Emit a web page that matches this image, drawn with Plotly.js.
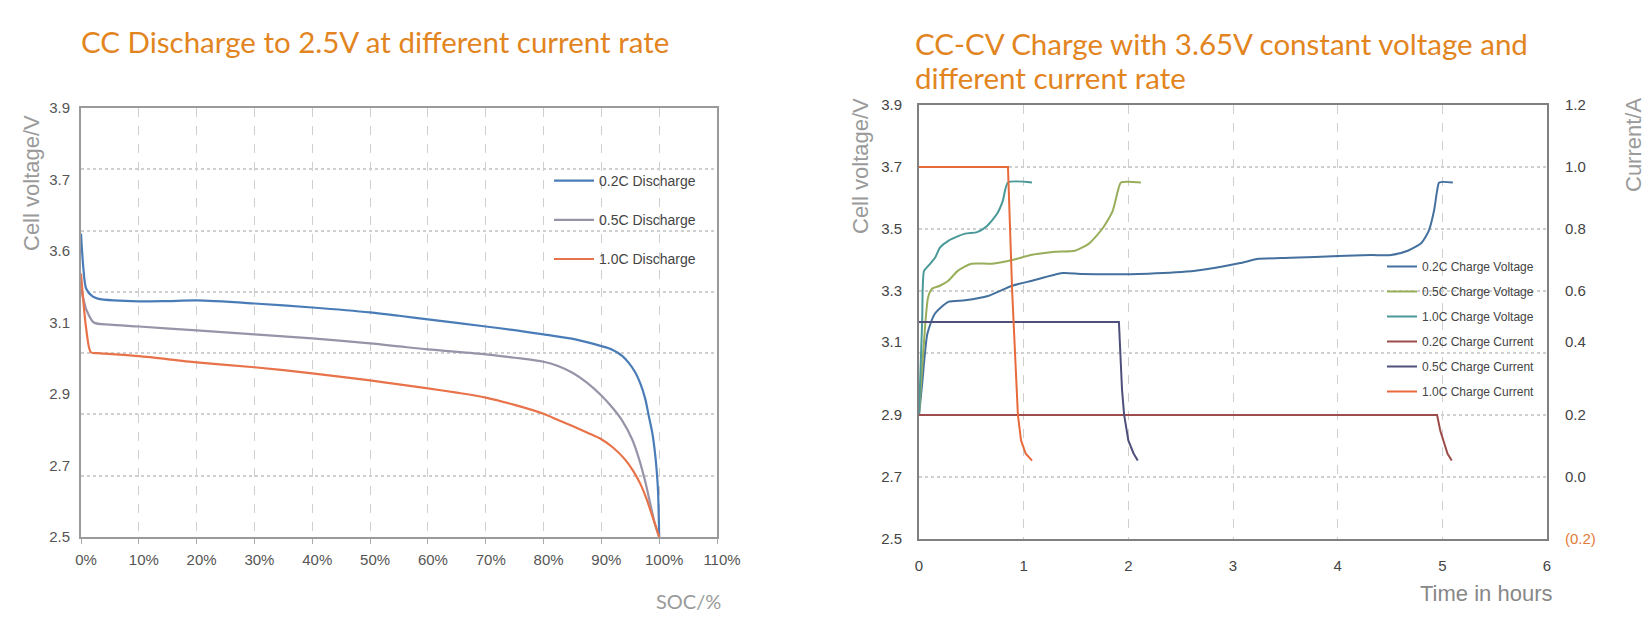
<!DOCTYPE html>
<html>
<head>
<meta charset="utf-8">
<script src="https://cdn.plot.ly/plotly-3.0.1.min.js"></script>
<style>
html,body{margin:0;padding:0;background:#ffffff;}
#chart{width:1650px;height:636px;}
</style>
</head>
<body>
<div id="chart"></div>
<script>
// ---------- Left chart: CC discharge (SOC %, cell voltage V) ----------
const socTicks = [0,10,20,30,40,50,60,70,80,90,100,110];
const socTickText = ["0%","10%","20%","30%","40%","50%","60%","70%","80%","90%","100%","110%"];
const leftVoltTickVals = [2.5, 2.733, 2.967, 3.2, 3.433, 3.667, 3.9];
const leftVoltTickText = ["2.5","2.7","2.9","3.1","3.6","3.7","3.9"];

const soc02 = [0, 0.4, 0.9, 2.0, 2.9, 5.7, 10, 15, 20, 30, 40, 50, 55, 60, 70, 75, 80, 85.5, 90, 91.8, 93.6, 94.7, 95.9, 96.8, 97.6, 98.2, 98.8, 99.2, 99.5, 99.8, 100];
const volt02 = [3.49, 3.38, 3.31, 3.285, 3.278, 3.272, 3.269, 3.27, 3.272, 3.262, 3.249, 3.233, 3.222, 3.21, 3.187, 3.175, 3.161, 3.145, 3.123, 3.112, 3.091, 3.069, 3.036, 2.998, 2.95, 2.895, 2.841, 2.787, 2.732, 2.65, 2.5];

const soc05 = [0, 0.5, 0.9, 2.2, 5, 10, 20, 30, 40, 50, 55, 60, 70, 75, 80, 82.5, 85, 87.5, 90, 92, 93.6, 95.3, 96.5, 97.6, 98.5, 99.3, 100];
const volt05 = [3.31, 3.27, 3.243, 3.2, 3.193, 3.187, 3.174, 3.161, 3.148, 3.132, 3.122, 3.112, 3.096, 3.085, 3.072, 3.058, 3.036, 3.004, 2.962, 2.92, 2.88, 2.82, 2.756, 2.68, 2.605, 2.54, 2.5];

const soc10 = [0, 0.9, 1.7, 2.9, 10, 20, 30, 40, 50, 55, 60, 65, 70, 75, 80, 82.5, 85, 87.5, 90, 92, 94, 95.5, 96.7, 97.8, 98.8, 99.5, 100];
const volt10 = [3.36, 3.18, 3.103, 3.1, 3.09, 3.07, 3.054, 3.034, 3.011, 2.998, 2.985, 2.971, 2.955, 2.931, 2.902, 2.882, 2.862, 2.841, 2.819, 2.792, 2.755, 2.716, 2.675, 2.625, 2.569, 2.53, 2.5];

// ---------- Right chart: CC-CV charge (hours, V and A) ----------
const hourTicks = [0,1,2,3,4,5,6];
const rightVoltTickVals = [2.5, 2.7, 2.9, 3.135, 3.3, 3.5, 3.7, 3.9];
const rightVoltTickText = ["2.5","2.7","2.9","3.1","3.3","3.5","3.7","3.9"];
const currTickVals = [-0.2, 0.0, 0.2, 0.435, 0.6, 0.8, 1.0, 1.2];
const currTickText = ['<span style="color:#E07B39">(0.2)</span>',"0.0","0.2","0.4","0.6","0.8","1.0","1.2"];

const tV02 = [0, 0.03, 0.08, 0.15, 0.28, 0.44, 0.66, 0.89, 1.08, 1.37, 1.56, 2.19, 2.64, 3.07, 3.23, 3.55, 4.01, 4.32, 4.51, 4.67, 4.80, 4.87, 4.92, 4.95, 4.97, 5.10];
const vV02 = [2.9, 3.0, 3.162, 3.226, 3.265, 3.27, 3.284, 3.317, 3.333, 3.358, 3.355, 3.356, 3.365, 3.39, 3.403, 3.407, 3.413, 3.416, 3.416, 3.43, 3.455, 3.494, 3.558, 3.623, 3.65, 3.65];

const tV05 = [0, 0.04, 0.086, 0.124, 0.2, 0.28, 0.37, 0.5, 0.7, 0.89, 1.08, 1.3, 1.49, 1.62, 1.75, 1.85, 1.9, 1.93, 2.12];
const vV05 = [2.9, 3.1, 3.278, 3.307, 3.317, 3.333, 3.365, 3.388, 3.388, 3.4, 3.417, 3.427, 3.43, 3.452, 3.5, 3.558, 3.623, 3.65, 3.65];

const tV10 = [0, 0.03, 0.048, 0.086, 0.153, 0.2, 0.28, 0.44, 0.555, 0.65, 0.746, 0.8, 0.85, 1.08];
const vV10 = [2.9, 3.2, 3.365, 3.38, 3.407, 3.44, 3.462, 3.485, 3.49, 3.51, 3.549, 3.59, 3.65, 3.65];

const tI02 = [0, 4.95, 4.98, 5.01, 5.05, 5.09];
const iI02 = [0.2, 0.2, 0.15, 0.118, 0.075, 0.053];

const tI05 = [0, 1.91, 1.94, 1.96, 2.0, 2.05, 2.09];
const iI05 = [0.5, 0.5, 0.28, 0.2, 0.118, 0.076, 0.053];

const tI10 = [0, 0.85, 0.89, 0.93, 0.945, 0.975, 1.02, 1.08];
const iI10 = [1.0, 1.0, 0.6, 0.31, 0.2, 0.118, 0.075, 0.053];

// ---------- helpers ----------
const W = 1650, H = 636;
const px = x => x / W;
const py = y => 1 - y / H;
const tickFont = {family: "Liberation Sans, Arial, sans-serif", size: 15, color: "#555"};
const gridCol = "#cfcfcf";

function line(x, y, name, color, xa, ya, legend, group, width, shape, smooth) {
  return {type: "scatter", mode: "lines", x: x, y: y, name: name, xaxis: xa, yaxis: ya,
          legend: legend, legendgroup: group, hoverinfo: "skip",
          line: {color: color, width: width || 2, shape: shape || "spline", smoothing: smooth || 0.6}};
}
function holder(xa, ya) {
  return {type: "scatter", mode: "lines", x: [], y: [], xaxis: xa, yaxis: ya,
          showlegend: false, hoverinfo: "skip"};
}

const traces = [
  holder("x", "y"),
  holder("x2", "y3"),
  line(soc02, volt02, "0.2C Discharge", "#4A7DB8", "x", "y2", "legend", "a", 2.2, "spline", 0.8),
  line(soc05, volt05, "0.5C Discharge", "#9893A8", "x", "y2", "legend", "b", 2.2, "spline", 0.8),
  line(soc10, volt10, "1.0C Discharge", "#E8734A", "x", "y2", "legend", "c", 2.2, "spline", 0.8),

  line(tV02, vV02, "0.2C Charge Voltage", "#44709E", "x2", "y4", "legend2", "d"),
  line(tV05, vV05, "0.5C Charge Voltage", "#98AE5A", "x2", "y4", "legend2", "e"),
  line(tV10, vV10, "1.0C Charge Voltage", "#4A9898", "x2", "y4", "legend2", "f"),
  line(tI02, iI02, "0.2C Charge Current", "#9C4C4A", "x2", "y5", "legend2", "g", 2, "linear"),
  line(tI05, iI05, "0.5C Charge Current", "#4E4F7A", "x2", "y5", "legend2", "h", 2, "linear"),
  line(tI10, iI10, "1.0C Charge Current", "#E8693A", "x2", "y5", "legend2", "i", 2, "linear")
];

const layout = {
  width: W, height: H,
  margin: {l: 0, r: 0, t: 0, b: 0},
  paper_bgcolor: "#ffffff", plot_bgcolor: "#ffffff",
  showlegend: true,
  xaxis: {
    domain: [px(81), px(717)], range: [0, 110], anchor: "y",
    tickmode: "array", tickvals: socTicks, ticktext: socTickText,
    showgrid: true, gridcolor: gridCol, griddash: "dash", gridwidth: 1,
    showline: true, linecolor: "#9a9a9a", linewidth: 2, mirror: true,
    ticks: "outside", ticklen: 5, tickcolor: "#aaaaaa", ticklabelstandoff: 3, ticklabelshift: 5,
    zeroline: false, tickfont: tickFont, fixedrange: true
  },
  yaxis: {
    domain: [py(537), py(108)], range: [2.5, 3.9], anchor: "x",
    tickmode: "linear", tick0: 2.5, dtick: 0.2, showticklabels: false,
    showgrid: true, gridcolor: gridCol, griddash: "dot", gridwidth: 1.5,
    showline: true, linecolor: "#9a9a9a", linewidth: 2, mirror: true,
    ticks: "", zeroline: false, fixedrange: true
  },
  yaxis2: {
    overlaying: "y", anchor: "x", range: [2.5, 3.9], side: "left",
    tickmode: "array", tickvals: leftVoltTickVals, ticktext: leftVoltTickText,
    showgrid: false, showline: false, zeroline: false, ticks: "",
    ticklabelstandoff: 10, tickfont: tickFont, fixedrange: true
  },
  xaxis2: {
    domain: [px(919), px(1547)], range: [0, 6], anchor: "y3",
    tickmode: "array", tickvals: hourTicks,
    showgrid: true, gridcolor: gridCol, griddash: "dash", gridwidth: 1,
    showline: true, linecolor: "#808080", linewidth: 2, mirror: true,
    ticks: "", ticklabelstandoff: 12, zeroline: false,
    tickfont: {family: tickFont.family, size: 15, color: "#444"}, fixedrange: true
  },
  yaxis3: {
    domain: [py(539), py(105)], range: [2.5, 3.9], anchor: "x2",
    tickmode: "linear", tick0: 2.5, dtick: 0.2, showticklabels: false,
    showgrid: true, gridcolor: gridCol, griddash: "dot", gridwidth: 1.5,
    showline: true, linecolor: "#808080", linewidth: 2, mirror: true,
    ticks: "", zeroline: false, fixedrange: true
  },
  yaxis4: {
    overlaying: "y3", anchor: "x2", range: [2.5, 3.9], side: "left",
    tickmode: "array", tickvals: rightVoltTickVals, ticktext: rightVoltTickText,
    showgrid: false, showline: false, zeroline: false, ticks: "",
    ticklabelstandoff: 16, tickfont: {family: tickFont.family, size: 15, color: "#444"}, fixedrange: true
  },
  yaxis5: {
    overlaying: "y3", anchor: "x2", range: [-0.2, 1.2], side: "right",
    tickmode: "array", tickvals: currTickVals, ticktext: currTickText,
    showgrid: false, showline: false, zeroline: false, ticks: "",
    ticklabelstandoff: 17, tickfont: {family: tickFont.family, size: 15, color: "#444"}, fixedrange: true
  },
  legend: {
    x: px(549), y: py(165), xanchor: "left", yanchor: "top",
    bgcolor: "rgba(0,0,0,0)", borderwidth: 0, itemwidth: 40,
    traceorder: "grouped", tracegroupgap: 18,
    font: {family: "Liberation Sans, Arial, sans-serif", size: 14, color: "#444"}
  },
  legend2: {
    x: px(1382), y: py(252), xanchor: "left", yanchor: "top",
    bgcolor: "rgba(0,0,0,0)", borderwidth: 0,
    traceorder: "grouped", tracegroupgap: 6,
    font: {family: "Liberation Sans, Arial, sans-serif", size: 12, color: "#444"}
  },
  annotations: [
    {text: "CC Discharge to 2.5V at different current rate", xref: "paper", yref: "paper",
     x: px(79), y: py(42), xanchor: "left", yanchor: "middle", showarrow: false,
     font: {family: "Lato, sans-serif", size: 29.5, color: "#E2851F"}},
    {text: "CC-CV Charge with 3.65V constant voltage and", xref: "paper", yref: "paper",
     x: px(913), y: py(44), xanchor: "left", yanchor: "middle", align: "left", showarrow: false,
     font: {family: "Lato, sans-serif", size: 29.5, color: "#E2851F"}},
    {text: "different current rate", xref: "paper", yref: "paper",
     x: px(913), y: py(77), xanchor: "left", yanchor: "middle", align: "left", showarrow: false,
     font: {family: "Lato, sans-serif", size: 29.5, color: "#E2851F"}},
    {text: "Cell voltage/V", xref: "paper", yref: "paper", x: px(31), y: py(183),
     xanchor: "center", yanchor: "middle", textangle: -90, showarrow: false,
     font: {family: "Liberation Sans, Arial, sans-serif", size: 22, color: "#9a9a9a"}},
    {text: "SOC/%", xref: "paper", yref: "paper", x: px(688), y: py(601),
     xanchor: "center", yanchor: "middle", showarrow: false,
     font: {family: "Lato, sans-serif", size: 20, color: "#9a9a9a"}},
    {text: "Cell voltage/V", xref: "paper", yref: "paper", x: px(860), y: py(166),
     xanchor: "center", yanchor: "middle", textangle: -90, showarrow: false,
     font: {family: "Liberation Sans, Arial, sans-serif", size: 22, color: "#9a9a9a"}},
    {text: "Current/A", xref: "paper", yref: "paper", x: px(1633), y: py(145),
     xanchor: "center", yanchor: "middle", textangle: -90, showarrow: false,
     font: {family: "Liberation Sans, Arial, sans-serif", size: 22, color: "#9a9a9a"}},
    {text: "Time in hours", xref: "paper", yref: "paper", x: px(1486), y: py(593),
     xanchor: "center", yanchor: "middle", showarrow: false,
     font: {family: "Liberation Sans, Arial, sans-serif", size: 22, color: "#888888"}}
  ]
};

Plotly.newPlot("chart", traces, layout, {displayModeBar: false, responsive: false});
</script>
</body>
</html>
